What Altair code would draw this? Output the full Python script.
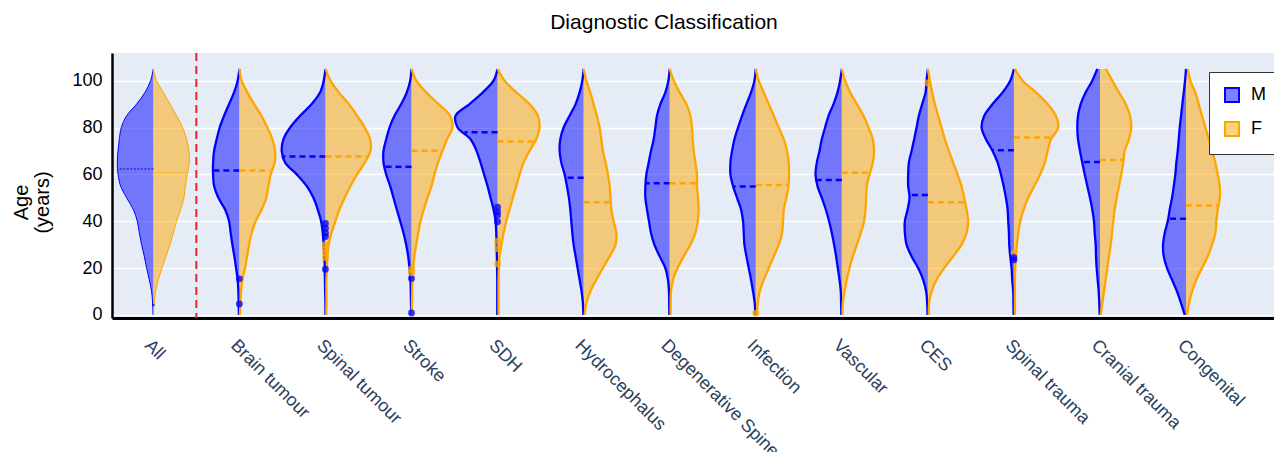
import altair as alt
import pandas as pd

# ---------------- data ----------------
CATEGORIES = ["All", "Brain tumour", "Spinal tumour", "Stroke", "SDH", "Hydrocephalus",
              "Degenerative Spine", "Infection", "Vascular", "CES", "Spinal trauma",
              "Cranial trauma", "Congenital"]
SEXES = ["M", "F"]
AGES = list(range(0, 106, 5))  # 0,5,...,105

# half-width of each violin half (relative density, pixels at 86 px per category)
M_WIDTH = [
    [0.3, 0.7, 1.7, 4, 6.7, 9, 11.7, 14, 16, 20, 26.7, 32.7, 35.3, 36, 35.3, 34, 32, 26.7, 16.7, 8.3, 2.7, 0],
    [0.5, 0.7, 1, 1.7, 3.3, 5, 7, 8.7, 10.3, 14.3, 21, 25.3, 26.3, 26.3, 25.3, 22.7, 19.7, 15.3, 10.3, 5.3, 1.7, 0],
    [0, 0, 0.3, 0.5, 0.7, 1, 1.7, 2.7, 4.3, 7.7, 12, 18.7, 28.7, 40.3, 43.7, 42, 35.3, 25.3, 13.7, 5.3, 1.7, 0],
    [0.3, 0.5, 0.7, 1, 2, 3.3, 5.3, 8, 11.3, 14.7, 18, 21.3, 25.3, 28, 28, 25.3, 22, 17, 10.3, 4.7, 1.3, 0],
    [0.3, 0.3, 0.3, 0.3, 0.5, 0.7, 1, 1.3, 2, 4, 7, 10, 13.5, 17, 21, 27, 40, 42, 28, 14.7, 4, 0],
    [0.3, 0.7, 2, 4, 6, 8, 10, 11.3, 12.3, 13.3, 14.7, 16.7, 19, 22.3, 24, 23.3, 20, 14, 8, 4, 1.3, 0],
    [0.3, 0.5, 0.7, 1.7, 4.3, 10, 15.3, 18.7, 20.7, 22.7, 24.3, 24.3, 23.3, 21, 18.7, 16, 14.3, 12.7, 9.3, 4.3, 1.3, 0],
    [0.5, 1, 2.7, 4.7, 7, 9.3, 11.3, 12, 12.7, 14.7, 18.7, 22.7, 25.3, 25.3, 23.7, 21.3, 17.7, 13.7, 9.3, 4.7, 1.3, 0],
    [0.5, 0.7, 1, 2.3, 4, 5.7, 7.7, 10, 12.7, 16, 20, 24.3, 26.3, 25, 22.3, 20, 16.7, 13.3, 8.3, 4.3, 1.7, 0],
    [0.3, 0.7, 1.7, 4.7, 9.7, 16.3, 21.3, 23, 23, 20.3, 18.3, 19.7, 19.7, 19, 16.3, 13.7, 11.3, 9, 5.7, 2.3, 1.3, 0],
    [0.3, 0.5, 0.7, 1.7, 2.3, 3.7, 4.7, 5, 5.7, 6.3, 8, 10.3, 13, 16.3, 21.3, 28, 32.3, 29.7, 21.3, 11.3, 3.7, 0],
    [0.3, 0.7, 1.3, 2.3, 3.3, 4, 4.3, 5.3, 6, 7.7, 10, 12.7, 15.3, 17.7, 20, 22, 22.7, 22, 19.3, 14.3, 7.7, 2.7],
    [1.3, 5, 9, 14, 19, 22.3, 23, 21.3, 18.3, 16.3, 14, 12.3, 10.7, 9.7, 8.3, 7.3, 6.3, 5, 3.7, 2.3, 1, 0],
]
F_WIDTH = [
    [0.3, 0.7, 2.3, 5, 8.7, 12.7, 16.7, 20, 23.3, 27.3, 30.7, 32, 34, 36, 35.7, 33.3, 29.3, 23.3, 16.7, 10, 3.3, 0],
    [0.5, 1, 1.7, 3, 5.7, 7.7, 9.7, 12.3, 16.3, 22.3, 27, 29, 31.3, 35.3, 35.7, 33, 28, 22, 14.7, 8, 2.3, 0],
    [0.8, 1, 1, 1, 1.5, 2, 3.3, 6, 10, 14, 19.3, 25, 31.7, 39.3, 45, 44.7, 39.3, 31.7, 23.3, 13.3, 5, 0],
    [0.3, 0.5, 0.7, 1, 1.7, 2.8, 4.7, 6.7, 9, 12.3, 16, 20, 23, 26.5, 31, 35.5, 41, 38.5, 27, 14.8, 4.8, 0],
    [1, 1, 1, 1, 1.3, 2, 4, 6, 8.7, 12, 15.3, 18.7, 22, 26, 32, 38.7, 42, 40.3, 32, 18.7, 7, 0],
    [1, 2.7, 6.7, 12.7, 19.3, 26, 32, 32.7, 30, 27.7, 27, 26, 24.3, 22, 19.3, 17.7, 16, 13.3, 10, 6.7, 2.7, 0],
    [1, 1, 1.3, 3.3, 8, 14, 20.7, 25.7, 28, 29, 28.3, 27.3, 27.3, 25.7, 24, 23, 22.3, 20.7, 16.7, 10, 4, 0],
    [1, 2, 4, 8, 13, 18, 23, 26.3, 27.3, 28, 30.7, 32.7, 33.3, 33, 31.3, 28, 23, 18, 13, 8, 3, 0],
    [0.7, 1, 2.7, 5, 7.7, 11, 15, 19, 22.3, 23.7, 24.3, 25, 27.7, 31, 32.3, 31, 26.7, 21.7, 15, 8.3, 3.3, 0],
    [1, 1.3, 3.7, 8.7, 16.3, 25.3, 33.7, 38.7, 40.3, 38.7, 36.3, 33.7, 29.7, 25.3, 21, 17, 13.7, 10.3, 7, 4.3, 2, 0],
    [1, 1, 1, 1, 1.3, 2, 3, 4.3, 6.3, 9.7, 14.3, 20.3, 26.3, 31, 33.7, 37, 44.3, 42, 33.7, 22, 8.7, 1],
    [0.7, 2.3, 4, 5.7, 7.3, 9, 10.7, 12, 13.3, 14.7, 16.7, 19, 21.3, 23.3, 24.7, 29, 31.3, 30, 25.7, 19, 12.3, 5.7],
    [1, 3, 6, 10.3, 16, 21.7, 26, 29.3, 30.3, 31.7, 33.7, 33.7, 31.7, 29.3, 26, 22.7, 19.3, 16, 12.7, 9.3, 4.3, 1.7],
]

MEDIAN_M = [62.3, 61.7, 67.6, 63.3, 78.0, 58.6, 56.2, 54.8, 57.6, 51.2, 70.3, 65.3, 41.1]
MEDIAN_F = [60.7, 61.6, 67.6, 70.1, 74.0, 48.1, 56.2, 55.5, 60.7, 48.1, 75.7, 66.1, 46.7]
MEDIAN_W_M = [36, 26, 42.5, 26, 33, 19, 24, 23, 25.5, 18.5, 22, 18.5, 18]
MEDIAN_W_F = [33, 31, 42, 31, 37, 27, 27, 32.5, 28.2, 37.2, 37.5, 23.6, 33]

POINT_CAT = ["All", "Brain tumour", "Brain tumour",
             "Spinal tumour", "Spinal tumour", "Spinal tumour", "Spinal tumour", "Spinal tumour",
             "Spinal tumour", "Spinal tumour", "Spinal tumour", "Spinal tumour",
             "Stroke", "Stroke", "Stroke", "Stroke",
             "SDH", "SDH", "SDH", "SDH", "SDH", "SDH", "SDH",
             "Infection", "CES", "Spinal trauma", "Spinal trauma", "Spinal trauma"]
POINT_SEX = ["M", "M", "M",
             "M", "M", "M", "M", "M",
             "F", "F", "F", "F",
             "M", "M", "F", "F",
             "M", "M", "M", "M", "F", "F", "F",
             "F", "F", "F", "M", "M"]
POINT_AGE = [4.3, 4.7, 15.4,
             39, 37, 35, 33.5, 19.5,
             30, 28, 26.5, 24.5,
             15.6, 0.8, 19.5, 18,
             46, 44, 42.5, 39.8, 31.5, 28.4, 21.8,
             0.7, 99, 26.6, 24.5, 23.5]

SEPARATOR = [0.5]
PX_PER_CATEGORY = 86.06

# ---------------- tables ----------------
rows = []
for i, cat in enumerate(CATEGORIES):
    for sex, widths in (("M", M_WIDTH[i]), ("F", F_WIDTH[i])):
        for age, w in zip(AGES, widths):
            rows.append({"category": cat, "idx": i, "sex": sex, "age": age, "w": w})
violin_df = pd.DataFrame(rows)

med_rows = []
for i, cat in enumerate(CATEGORIES):
    med_rows.append({"category": cat, "idx": i, "sex": "M", "age": MEDIAN_M[i], "w": MEDIAN_W_M[i]})
    med_rows.append({"category": cat, "idx": i, "sex": "F", "age": MEDIAN_F[i], "w": MEDIAN_W_F[i]})
median_df = pd.DataFrame(med_rows)

pts_df = pd.DataFrame({"category": POINT_CAT, "sex": POINT_SEX, "age": POINT_AGE})
pts_df["idx"] = pts_df["category"].map({c: i for i, c in enumerate(CATEGORIES)})

sep_df = pd.DataFrame({"x": SEPARATOR})

edge_expr = f"datum.idx + (datum.sex == 'M' ? -1 : 1) * datum.w / {PX_PER_CATEGORY}"

# ---------------- scales / axes ----------------
FONT = "Liberation Sans"
COLORS = ["#0000ff", "#ffa500"]
FILLS = ["rgba(0,0,255,0.5)", "rgba(255,165,0,0.5)"]
x_scale = alt.Scale(domain=[-0.48, 13.022], nice=False, zero=False)
y_scale = alt.Scale(domain=[-1.3, 111.8], nice=False, zero=False)
# the line/rule/point colour scale lists the same colours in reverse domain order,
# so its (hidden) legend is not merged with the fill/stroke legend of the violins
line_color_scale = alt.Scale(domain=SEXES[::-1], range=COLORS[::-1])
fill_scale = alt.Scale(domain=SEXES, range=FILLS)
stroke_scale = alt.Scale(domain=SEXES, range=COLORS)

label_test = " : ".join(
    [f"datum.value == {i} ? '{c}'" for i, c in enumerate(CATEGORIES)]) + " : ''"

x_axis = alt.Axis(values=list(range(len(CATEGORIES))), labelExpr=label_test,
                  labelAngle=45, labelAlign="left", labelBaseline="top",
                  labelPadding=18, labelFontSize=18, labelColor="#2a3f5f",
                  labelOverlap=False, labelFlush=False,
                  grid=False, ticks=False, domainColor="black", domainWidth=3,
                  title=None)
y_axis = alt.Axis(values=[0, 20, 40, 60, 80, 100], grid=True, gridColor="white",
                  gridWidth=1.5, ticks=False, domainColor="black", domainWidth=2.5,
                  labelFontSize=18, labelColor="black", labelPadding=10,
                  title=["Age", "(years)"], titleFontSize=20, titleFontWeight="normal",
                  titleColor="black", titleLineHeight=21, titleAngle=-90,
                  titleAlign="center", titleBaseline="bottom", titleX=-81, titleY=149)

legend = alt.Legend(orient="none", legendX=1097, legendY=19, title=None,
                    direction="vertical", fillColor="white", strokeColor="#333333",
                    padding=14, rowPadding=12, labelFontSize=18, labelColor="black",
                    labelOffset=10, symbolType="square", symbolSize=196,
                    symbolStrokeWidth=2)

is_all = alt.datum.category == "All"

base = alt.Chart(violin_df).transform_calculate(edge=edge_expr)

area = base.mark_area(orient="horizontal", interpolate="catmull-rom").encode(
    y=alt.Y("age:Q", scale=y_scale, axis=y_axis),
    x=alt.X("edge:Q", scale=x_scale, axis=x_axis, stack=None),
    x2=alt.X2("idx:Q"),
    fill=alt.Fill("sex:N", scale=fill_scale, legend=legend),
    stroke=alt.Stroke("sex:N", scale=stroke_scale, legend=legend),
    strokeWidth=alt.value(0),
    detail="category:N",
)

outline = base.mark_line(interpolate="catmull-rom").encode(
    y=alt.Y("age:Q", scale=y_scale, axis=y_axis),
    x=alt.X("edge:Q", scale=x_scale, axis=x_axis),
    color=alt.Color("sex:N", scale=line_color_scale, legend=None),
    detail="category:N",
    order=alt.Order("age:Q"),
    strokeWidth=alt.condition(is_all, alt.value(1), alt.value(2.3)),
)

medians = alt.Chart(median_df).transform_calculate(edge=edge_expr).mark_rule().encode(
    y=alt.Y("age:Q", scale=y_scale, axis=y_axis),
    x=alt.X("idx:Q", scale=x_scale, axis=x_axis),
    x2=alt.X2("edge:Q"),
    color=alt.Color("sex:N", scale=line_color_scale, legend=None),
    strokeWidth=alt.condition(is_all, alt.value(1.2), alt.value(2.5)),
    strokeDash=alt.condition(is_all, alt.value([2, 1.5]), alt.value([6, 4])),
)

points = alt.Chart(pts_df).mark_circle(opacity=0.75).encode(
    y=alt.Y("age:Q", scale=y_scale, axis=y_axis),
    x=alt.X("idx:Q", scale=x_scale, axis=x_axis),
    color=alt.Color("sex:N", scale=line_color_scale, legend=None),
    size=alt.condition(is_all, alt.value(8), alt.value(48)),
)

separator = alt.Chart(sep_df).mark_rule(color="#e8232a", strokeDash=[8, 5], strokeWidth=2).encode(
    x=alt.X("x:Q", scale=x_scale, axis=x_axis),
)

chart = alt.layer(area, outline, medians, points, separator).properties(
    width=1162, height=265,
    title=alt.Title("Diagnostic Classification", fontSize=21, fontWeight="normal",
                    color="black", anchor="middle", dx=-29, offset=19, font=FONT),
    autosize=alt.AutoSizeParams(type="none"),
    padding={"left": 104, "top": 45, "right": 0, "bottom": 134},
).configure(font=FONT).configure_view(fill="#e5ecf6", stroke=None)

chart.save("out.html", embed_options={"renderer": "svg", "actions": False})
